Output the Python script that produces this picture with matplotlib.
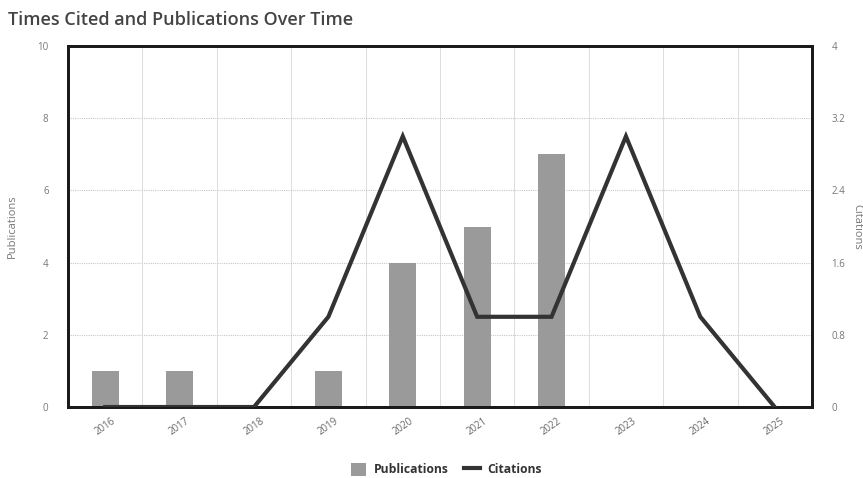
import matplotlib
matplotlib.use("Agg")
import matplotlib.pyplot as plt
from matplotlib.lines import Line2D
from matplotlib.patches import Patch
import numpy as np

years = ["2016", "2017", "2018", "2019", "2020", "2021", "2022", "2023", "2024", "2025"]
publications = [1, 1, 0, 1, 4, 5, 7, 0, 0, 0]
citations = [0, 0, 0, 1, 3, 1, 1, 3, 1, 0]
left_ticks = [0, 2, 4, 6, 8, 10]
right_ticks = [0, 0.8, 1.6, 2.4, 3.2, 4]
right_labels = ["0", "0.8", "1.6", "2.4", "3.2", "4"]

plt.rcParams['font.family'] = ['Open Sans', 'DejaVu Sans']

fig = plt.figure(figsize=(8.63, 4.78), dpi=100)
ax = fig.add_axes([0.0788, 0.1485, 0.862, 0.755])
x = np.arange(len(years))
ax.bar(x, publications, width=0.36, color="#9a9a9a", zorder=2)
ax.set_xlim(-0.5, len(years) - 0.5)
ax.set_ylim(0, 10)
ax.set_yticks(left_ticks)
ax.set_yticklabels([str(t) for t in left_ticks], fontsize=7, color="#777777")
ax.set_xticks(x)
ax.set_xticklabels(years, rotation=35, fontsize=7, color="#666666", ha="center")
ax.set_xticks(np.arange(len(years) + 1) - 0.5, minor=True)
ax.grid(False)
ax.grid(axis="y", which="major", color="#c8c8c8", linestyle=(0, (1, 1)), linewidth=0.8, zorder=0)
ax.grid(axis="x", which="minor", color="#dddddd", linestyle="-", linewidth=0.7, zorder=0)
ax.tick_params(axis="both", which="both", length=0)
ax.tick_params(axis="y", pad=14)
ax.tick_params(axis="x", pad=6)
ax.set_ylabel("Publications", fontsize=8, color="#777777", labelpad=14)
for s in ax.spines.values():
    s.set_linewidth(2)
    s.set_color("#1a1a1a")

ax2 = ax.twinx()
ax2.plot(x, citations, color="#333333", linewidth=3, zorder=3, solid_joinstyle="miter")
ax2.set_ylim(0, 4)
ax2.set_yticks(right_ticks)
ax2.set_yticklabels(right_labels, fontsize=7, color="#777777")
ax2.tick_params(axis="y", length=0, pad=14)
ax2.set_ylabel("Citations", fontsize=8, color="#777777", rotation=270, labelpad=12)
for s in ax2.spines.values():
    s.set_linewidth(2)
    s.set_color("#1a1a1a")

fig.text(0.009, 0.958, "Times Cited and Publications Over Time", fontsize=13,
         fontweight="semibold", color="#444444", ha="left", va="center")

handles = [Patch(facecolor="#9a9a9a", edgecolor="none", label="Publications"),
           Line2D([0], [0], color="#333333", linewidth=3, label="Citations")]
leg = fig.legend(handles=handles, loc="center", bbox_to_anchor=(0.517, 0.018), ncol=2,
                 frameon=False, fontsize=8.7, handlelength=1.3, handleheight=1.3,
                 columnspacing=1.3, handletextpad=0.6)
for t in leg.get_texts():
    t.set_fontweight("bold")
    t.set_color("#333333")

fig.savefig("out.png", dpi=100)
